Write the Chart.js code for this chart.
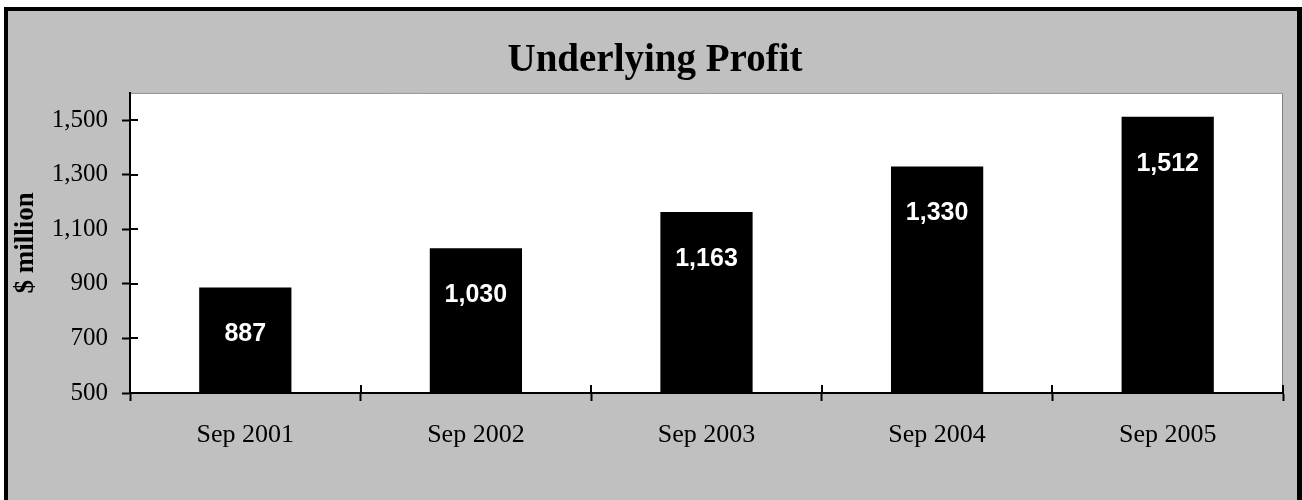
<!DOCTYPE html>
<html><head><meta charset="utf-8">
<script src="https://cdn.jsdelivr.net/npm/chart.js@4.4.0/dist/chart.umd.min.js"></script>
<style>html,body{margin:0;padding:0;background:#fff;}canvas{display:block;}</style>
</head><body>
<canvas id="c" width="1302" height="500"></canvas>
<script>
const categories = ['Sep 2001', 'Sep 2002', 'Sep 2003', 'Sep 2004', 'Sep 2005'];
const profit = [887, 1030, 1163, 1330, 1512];
const yTickValues = [500, 700, 900, 1100, 1300, 1500];
const yTickLabels = ['500', '700', '900', '1,100', '1,300', '1,500'];
const titleText = 'Underlying Profit';
const yAxisTitle = '$ million';

const framePlugin = {
  id: 'frame',
  beforeDraw(chart) {
    const ctx = chart.ctx, W = chart.width, H = chart.height, a = chart.chartArea;
    ctx.save();
    ctx.fillStyle = '#ffffff'; ctx.fillRect(0, 0, W, H);
    ctx.fillStyle = '#000000'; ctx.fillRect(4, 7, W - 4, H - 7);
    ctx.fillStyle = '#c0c0c0'; ctx.fillRect(8, 11, W - 13, H - 11);
    ctx.fillStyle = '#ffffff'; ctx.fillRect(a.left, a.top, a.right - a.left, a.bottom - a.top);
    ctx.strokeStyle = '#808080'; ctx.lineWidth = 1;
    ctx.beginPath();
    ctx.moveTo(a.left, a.top + 0.5);
    ctx.lineTo(a.right - 0.5, a.top + 0.5);
    ctx.lineTo(a.right - 0.5, a.bottom);
    ctx.stroke();
    ctx.restore();
  },
  afterDatasetsDraw(chart) {
    const ctx = chart.ctx, a = chart.chartArea;
    const xs = chart.scales.x, ys = chart.scales.y;
    ctx.save();
    ctx.strokeStyle = '#000'; ctx.lineWidth = 2;
    ctx.beginPath();
    yTickValues.forEach(v => {
      const y = Math.round(ys.getPixelForValue(v));
      ctx.moveTo(a.left, y); ctx.lineTo(a.left + 8, y);
    });
    const n = categories.length;
    for (let i = 0; i <= n; i++) {
      const x = Math.round(xs.left + i * (xs.width / n));
      ctx.moveTo(x, a.bottom); ctx.lineTo(x, a.bottom - 8);
    }
    ctx.stroke();
    const meta = chart.getDatasetMeta(0);
    ctx.fillStyle = '#ffffff';
    ctx.font = 'bold 25px "Liberation Sans", Arial, sans-serif';
    ctx.textAlign = 'center'; ctx.textBaseline = 'middle';
    meta.data.forEach((bar, i) => {
      ctx.fillText(profit[i].toLocaleString('en-US'), bar.x, bar.y + 47);
    });
    ctx.restore();
  }
};

const serif = '"Liberation Serif", "Times New Roman", serif';

new Chart(document.getElementById('c'), {
  type: 'bar',
  data: {
    labels: categories,
    datasets: [{
      data: profit,
      backgroundColor: '#000000',
      borderWidth: 0,
      barPercentage: 0.4,
      categoryPercentage: 1.0
    }]
  },
  plugins: [framePlugin],
  options: {
    responsive: false,
    animation: false,
    devicePixelRatio: 1,
    layout: { padding: { left: 8, right: 0, top: 0, bottom: 0 } },
    plugins: {
      legend: { display: false },
      tooltip: { enabled: false },
      title: {
        display: true, text: titleText, color: '#000',
        font: { family: serif, size: 39, weight: 'bold', lineHeight: 1.2 },
        padding: { top: 38, bottom: 8 }
      }
    },
    scales: {
      x: {
        offset: true,
        grid: { display: true, offset: true, drawOnChartArea: false, drawTicks: true, tickLength: 8, tickWidth: 2, tickColor: '#000', color: '#000' },
        border: { display: true, color: '#000', width: 2 },
        ticks: { color: '#000', padding: 19, maxRotation: 0, font: { family: serif, size: 26 } },
        afterFit(scale) { scale.height = 107; }
      },
      y: {
        min: 500, max: 1600,
        afterBuildTicks(scale) { scale.ticks = yTickValues.map(v => ({ value: v })); },
        grid: { display: true, drawOnChartArea: false, drawTicks: true, tickLength: 8, tickWidth: 2, tickColor: '#000', color: '#000' },
        border: { display: true, color: '#000', width: 2 },
        ticks: {
          color: '#000', padding: 14,
          font: { family: serif, size: 25 },
          callback(value) { const i = yTickValues.indexOf(value); return i >= 0 ? yTickLabels[i] : ''; }
        },
        title: {
          display: true, text: yAxisTitle, color: '#000',
          font: { family: serif, size: 27, weight: 'bold', lineHeight: 1.2 },
          padding: { top: 2, bottom: 0 }
        },
        afterFit(scale) { scale.width = 122; }
      },
      yRight: {
        type: 'linear', position: 'right', display: true,
        grid: { display: false, drawTicks: false },
        border: { display: false },
        ticks: { display: false },
        afterFit(scale) { scale.width = 19; }
      }
    }
  }
});
</script>
</body></html>
